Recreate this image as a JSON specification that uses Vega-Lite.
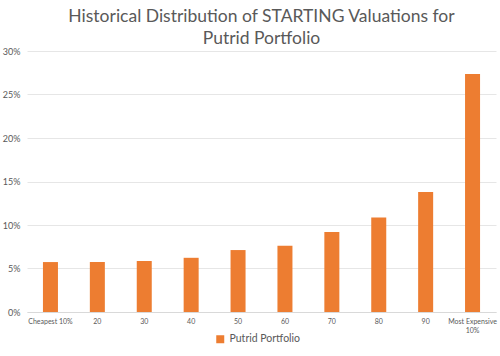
{
  "$schema": "https://vega.github.io/schema/vega-lite/v6.json",
  "width": 500,
  "height": 356,
  "autosize": {"type": "fit", "contains": "padding"},
  "padding": {"left": 2, "right": 4, "top": 7, "bottom": 23},
  "background": "white",
  "title": {
    "text": ["Historical Distribution of STARTING Valuations for", "Putrid Portfolio"],
    "font": "Lato",
    "fontSize": 17.5,
    "fontWeight": "normal",
    "color": "#595959",
    "lineHeight": 22,
    "offset": 0,
    "anchor": "middle"
  },
  "data": {
    "values": [
      {"bucket": "Cheapest 10%", "value": 0.0574, "series": "Putrid Portfolio"},
      {"bucket": "20", "value": 0.0574, "series": "Putrid Portfolio"},
      {"bucket": "30", "value": 0.0586, "series": "Putrid Portfolio"},
      {"bucket": "40", "value": 0.0623, "series": "Putrid Portfolio"},
      {"bucket": "50", "value": 0.0712, "series": "Putrid Portfolio"},
      {"bucket": "60", "value": 0.0761, "series": "Putrid Portfolio"},
      {"bucket": "70", "value": 0.092, "series": "Putrid Portfolio"},
      {"bucket": "80", "value": 0.1085, "series": "Putrid Portfolio"},
      {"bucket": "90", "value": 0.138, "series": "Putrid Portfolio"},
      {"bucket": "Most Expensive 10%", "value": 0.2735, "series": "Putrid Portfolio"}
    ]
  },
  "mark": {"type": "bar", "color": "#ED7D31"},
  "encoding": {
    "x": {
      "field": "bucket",
      "type": "nominal",
      "sort": null,
      "scale": {"paddingInner": 0.68, "paddingOuter": 0.34},
      "axis": {
        "title": null,
        "labelAngle": 0,
        "labelFont": "Lato",
        "labelFontSize": 7,
        "labelColor": "#595959",
        "labelExpr": "datum.label == 'Most Expensive 10%' ? ['Most Expensive', '10%'] : datum.label",
        "ticks": false,
        "domainColor": "#d9d9d9",
        "labelPadding": 5
      }
    },
    "y": {
      "field": "value",
      "type": "quantitative",
      "scale": {"domain": [0, 0.3]},
      "axis": {
        "title": null,
        "values": [0, 0.05, 0.1, 0.15, 0.2, 0.25, 0.3],
        "format": ".0%",
        "labelFont": "Lato",
        "labelFontSize": 9,
        "labelColor": "#595959",
        "ticks": false,
        "domain": false,
        "gridColor": "#e6e6e6",
        "labelPadding": 7
      }
    },
    "color": {
      "field": "series",
      "type": "nominal",
      "scale": {"range": ["#ED7D31"]},
      "legend": {
        "orient": "none",
        "legendX": 188,
        "legendY": 283,
        "title": null,
        "symbolType": "square",
        "symbolSize": 64,
        "labelFont": "Lato",
        "labelFontSize": 10.5,
        "labelColor": "#595959"
      }
    }
  },
  "config": {"view": {"stroke": null}}
}
